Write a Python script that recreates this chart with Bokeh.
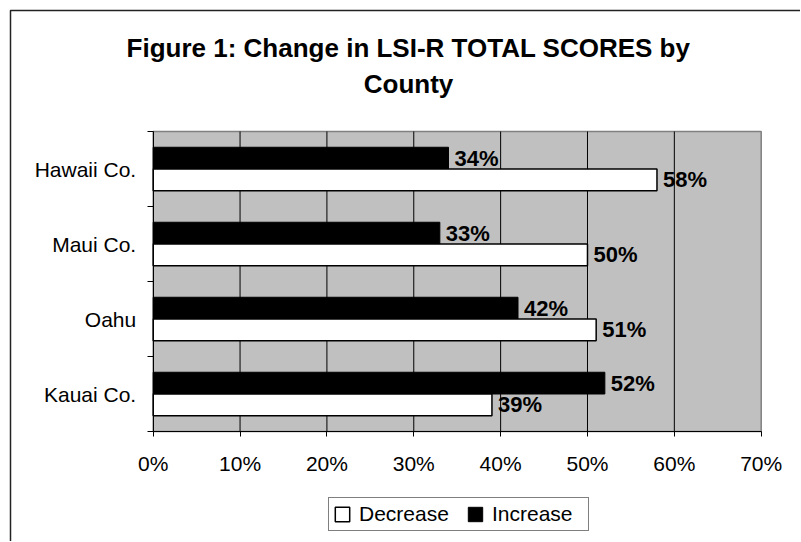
from bokeh.plotting import figure
from bokeh.models import (ColumnDataSource, Range1d, FixedTicker, PrintfTickFormatter,
                          Label, Legend, LegendItem)
from bokeh.transform import dodge
from bokeh.core.properties import value
from bokeh.embed import file_html
from bokeh.resources import INLINE

# ---- data ----
counties = ["Hawaii Co.", "Maui Co.", "Oahu", "Kauai Co."]
decrease = [58, 50, 51, 39]
increase = [34, 33, 42, 52]
x_ticks = [0, 10, 20, 30, 40, 50, 60, 70]
series_names = ["Decrease", "Increase"]
title_lines = ["Figure 1: Change in LSI-R TOTAL SCORES by", "County"]

FONT = "Liberation Sans"
n = len(counties)

# ---- layout geometry (pixels) ----
W, H = 800, 541
PLOT_LEFT, PLOT_RIGHT, PLOT_TOP, PLOT_BOTTOM = 152.7, 760.7, 131.0, 431.0
PX = (PLOT_RIGHT - PLOT_LEFT) / (x_ticks[-1] - x_ticks[0])
PY = (PLOT_BOTTOM - PLOT_TOP) / n


def dx(px):
    return x_ticks[0] + (px - PLOT_LEFT) / PX


def dy(py):
    return (PLOT_BOTTOM - py) / PY


ypos = [n - 0.5 - i for i in range(n)]          # first county on top
src = ColumnDataSource(dict(
    y=ypos, county=counties, dec=decrease, inc=increase,
    dec_lbl=[f"{v}%" for v in decrease],
    inc_lbl=[f"{v}%" for v in increase]))

p = figure(width=W, height=H, output_backend="svg", toolbar_location=None,
           x_range=Range1d(dx(0), dx(W)), y_range=Range1d(dy(H), dy(0)),
           min_border=0, background_fill_color="white", border_fill_color="white",
           outline_line_color=None)
p.xgrid.visible = False
p.ygrid.visible = False

# outer chart border (left and top edges)
BX, BY = 10.0, 10.0
p.line(x=[dx(BX), dx(BX), dx(W)], y=[dy(H), dy(BY), dy(BY)],
       line_color="#222222", line_width=1.5)

# plot area
p.quad(left=x_ticks[0], right=x_ticks[-1], bottom=0, top=n,
       fill_color="#C0C0C0", line_color="#808080", line_width=1.5)
inner = x_ticks[1:-1]
p.segment(x0=inner, y0=[0] * len(inner), x1=inner, y1=[n] * len(inner),
          line_color="black", line_width=1)

BH = 0.29
OFF = 0.145
r_inc = p.hbar(y=dodge("y", OFF), left=0, right="inc", height=BH, source=src,
               fill_color="black", line_color="black", line_width=1)
r_dec = p.hbar(y=dodge("y", -OFF), left=0, right="dec", height=BH, source=src,
               fill_color="white", line_color="black", line_width=1.5)

for col, lbl, off in (("inc", "inc_lbl", OFF), ("dec", "dec_lbl", -OFF)):
    p.text(x=col, y=dodge("y", off), text=lbl, source=src, x_offset=6,
           text_baseline="middle", text_align="left", text_font=value(FONT),
           text_font_style="bold", text_font_size="22px", text_color="black")

# x axis
xa = p.xaxis[0]
xa.fixed_location = 0
xa.bounds = (x_ticks[0], x_ticks[-1])
xa.ticker = FixedTicker(ticks=x_ticks)
xa.formatter = PrintfTickFormatter(format="%d%%")
xa.major_tick_out = 5
xa.major_tick_in = 0
xa.minor_tick_out = 0
xa.minor_tick_in = 0
xa.axis_line_color = "black"
xa.major_tick_line_color = "black"
xa.major_label_text_font = FONT
xa.major_label_text_font_size = "21px"
xa.major_label_text_color = "black"
xa.major_label_standoff = 15

# y axis: labels at category centres, ticks at category boundaries
ya = p.yaxis[0]
ya.fixed_location = x_ticks[0]
ya.bounds = (0, n)
ya.ticker = FixedTicker(ticks=ypos, minor_ticks=[float(i) for i in range(n + 1)])
ya.major_label_overrides = {y: c for y, c in zip(ypos, counties)}
ya.major_tick_out = 0
ya.major_tick_in = 0
ya.minor_tick_out = 6
ya.minor_tick_in = 0
ya.minor_tick_line_color = "black"
ya.axis_line_color = "black"
ya.major_label_text_font = FONT
ya.major_label_text_font_size = "21px"
ya.major_label_text_color = "black"
ya.major_label_standoff = 11

# legend (bottom-left corner in frame pixels)
LEG_LEFT, LEG_BOTTOM = 328, 531
legend = Legend(items=[LegendItem(label=series_names[0], renderers=[r_dec]),
                       LegendItem(label=series_names[1], renderers=[r_inc])],
                orientation="horizontal", location=(LEG_LEFT, H - LEG_BOTTOM),
                glyph_width=18, glyph_height=18, label_standoff=8, spacing=15,
                label_width=92, label_height=20,
                padding=4, margin=0, label_text_font=FONT,
                label_text_font_size="21px", label_text_color="black",
                border_line_color="black", border_line_width=1,
                background_fill_color="white", background_fill_alpha=1)
p.add_layout(legend, "center")

# title
TITLE_CX = 408
TITLE_CY = [47, 83]
for txt, cy in zip(title_lines, TITLE_CY):
    p.add_layout(Label(x=dx(TITLE_CX), y=dy(cy), text=txt, text_align="center",
                       text_baseline="middle", text_font=FONT,
                       text_font_style="bold", text_font_size="26px",
                       text_color="black"))

open("out.html", "w").write(file_html(p, INLINE))
